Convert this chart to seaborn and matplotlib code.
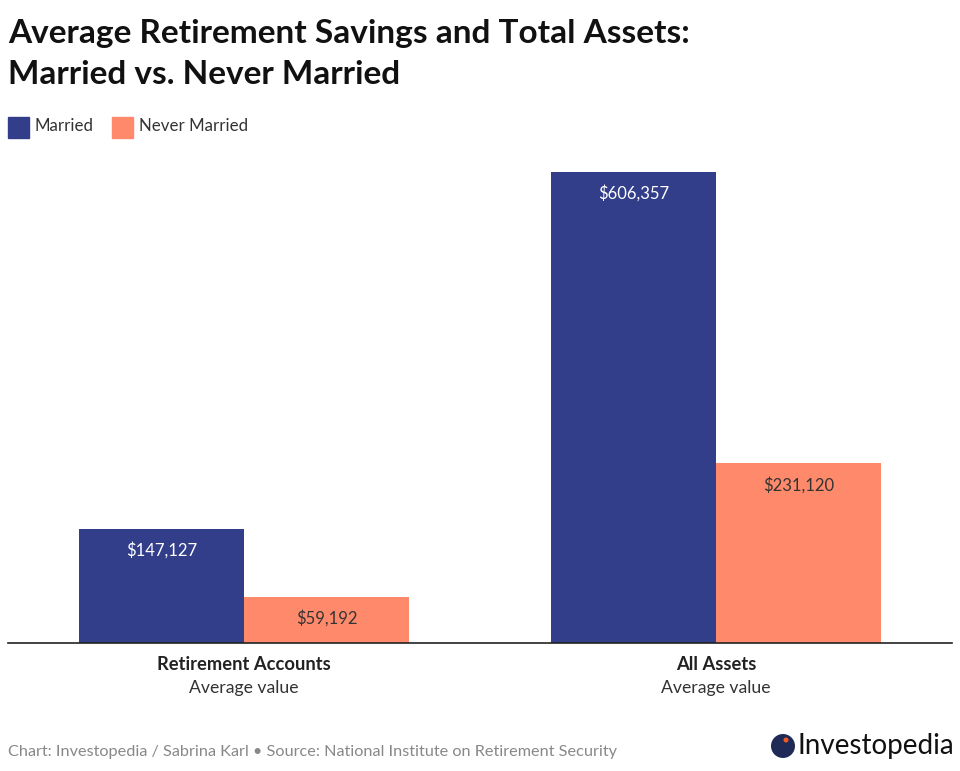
import matplotlib
matplotlib.use("Agg")
import matplotlib.pyplot as plt
import seaborn as sns
import pandas as pd
from matplotlib.patches import Rectangle, Circle
from matplotlib.transforms import IdentityTransform

categories = ["Retirement Accounts", "All Assets"]
subtitles = ["Average value", "Average value"]
groups = ["Married", "Never Married"]
married = [147127, 606357]
never_married = [59192, 231120]
colors = ["#333E8B", "#FF8A6B"]

df = pd.DataFrame({
    "category": categories * 2,
    "group": [groups[0]] * 2 + [groups[1]] * 2,
    "value": married + never_married,
})

sns.set_theme(style="white")
plt.rcParams["font.family"] = ["Lato", "DejaVu Sans"]

W, H = 960, 771
fig = plt.figure(figsize=(W / 100, H / 100), dpi=100)
ax = fig.add_axes([8 / W, 1 - 643 / H, 944 / W, 493 / H])

sns.barplot(data=df, x="category", y="value", hue="group", order=categories,
            hue_order=groups, palette=colors, width=0.7, ax=ax,
            edgecolor="none", legend=False, saturation=1)

ax.set_xlim(-0.5, 1.5)
ax.set_ylim(0, 606357 * 493 / 471)
for s in ["top", "right", "left"]:
    ax.spines[s].set_visible(False)
ax.spines["bottom"].set_color("#222222")
ax.spines["bottom"].set_linewidth(1.2)
ax.set_yticks([])
ax.set_xlabel("")
ax.set_ylabel("")
ax.set_xticks([0, 1])
ax.set_xticklabels([])
ax.tick_params(axis="x", length=0)

for i, c in enumerate(categories):
    ax.text(i, -0.043, c, transform=ax.get_xaxis_transform(), ha="center",
            va="center", fontsize=13.2, fontweight="bold", color="#222222")
    ax.text(i, -0.092, subtitles[i], transform=ax.get_xaxis_transform(),
            ha="center", va="center", fontsize=12.7, color="#333333")

for container, txtcol in zip(ax.containers, ["white", "#333333"]):
    for bar in container:
        h = bar.get_height()
        ax.annotate(f"${h:,.0f}", (bar.get_x() + bar.get_width() / 2, h),
                    xytext=(0, -15.5), textcoords="offset points", ha="center",
                    va="center", fontsize=12, color=txtcol)

fig.text(8 / W, 1 - 33 / H, "Average Retirement Savings and Total Assets:",
         fontsize=24, fontweight="bold", color="#111111", va="center")
fig.text(8 / W, 1 - 75 / H, "Married vs. Never Married",
         fontsize=24, fontweight="bold", color="#111111", va="center")

# legend
for x0, lab, col in [(8, groups[0], colors[0]), (112, groups[1], colors[1])]:
    fig.patches.append(Rectangle((x0 / W, 1 - 138 / H), 21 / W, 21 / H,
                                 transform=fig.transFigure, facecolor=col,
                                 edgecolor=col, figure=fig))
    fig.text((x0 + 27) / W, 1 - 126 / H, lab, fontsize=12.2, color="#333333",
             va="center")

fig.text(8 / W, 1 - 752 / H,
         "Chart: Investopedia / Sabrina Karl \u2022 Source: National Institute on Retirement Security",
         fontsize=11.7, color="#888888", va="center")

# logo
fig.patches.append(Circle((783, H - 746), 12, transform=IdentityTransform(),
                          facecolor="#1F2A56", edgecolor="none", figure=fig))
fig.patches.append(Circle((786, H - 740), 2.5, transform=IdentityTransform(),
                          facecolor="#F15A24", edgecolor="none", figure=fig))
fig.text(798 / W, 1 - 746 / H, "Investopedia", fontsize=20, color="#111111",
         va="center")

fig.savefig("out.png", dpi=100)
